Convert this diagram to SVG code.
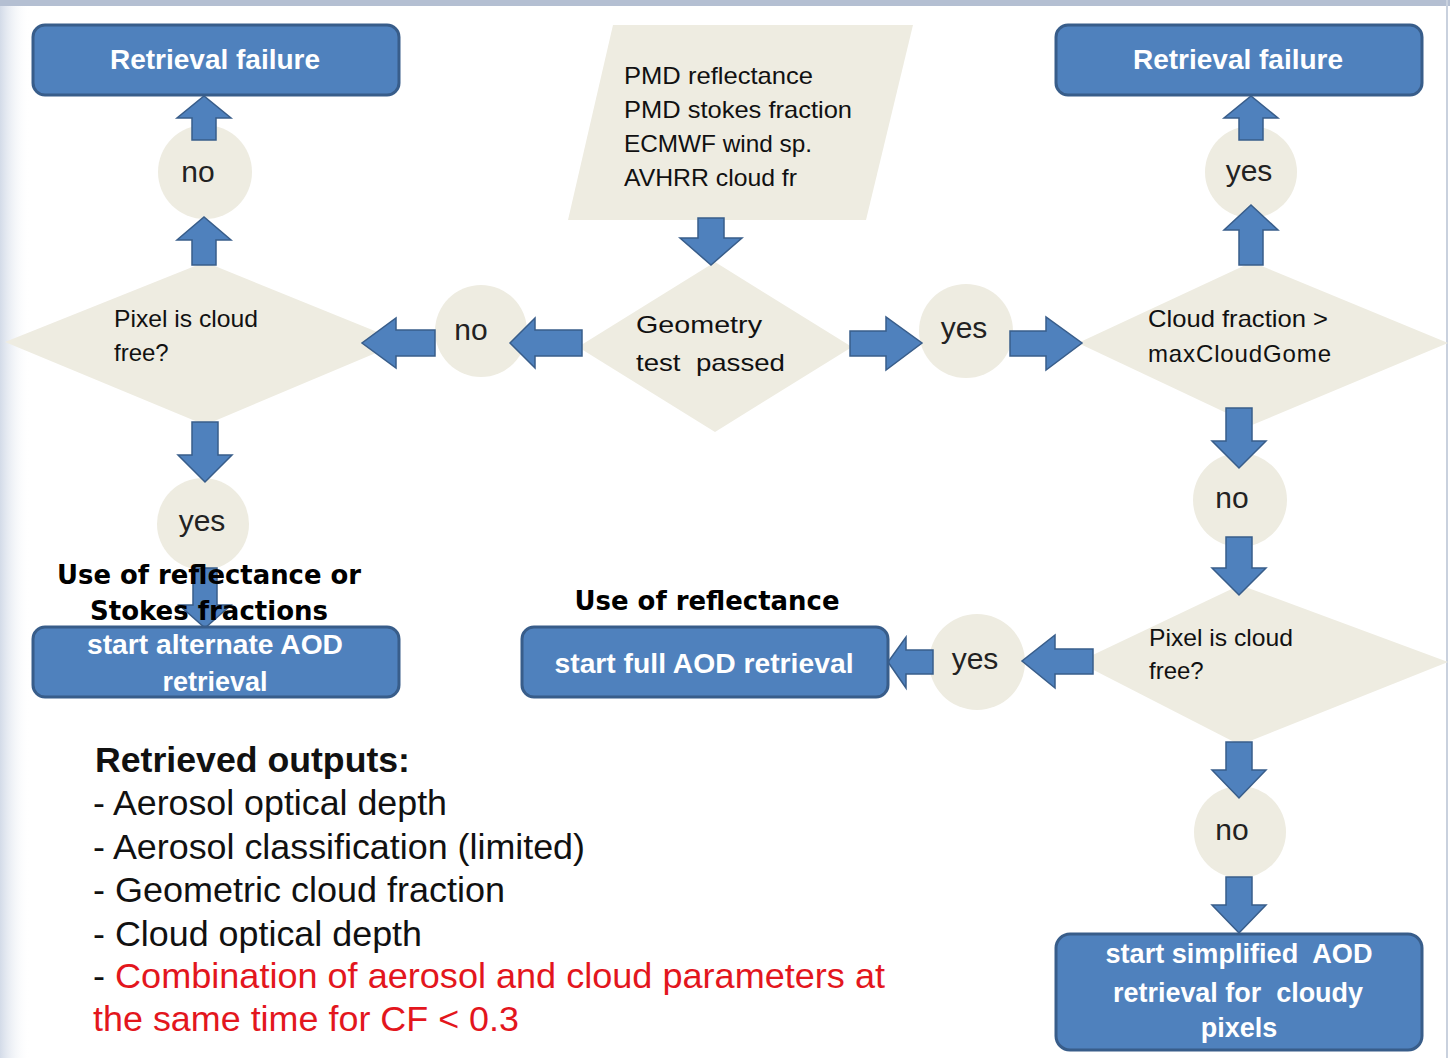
<svg xmlns="http://www.w3.org/2000/svg" width="1450" height="1058" viewBox="0 0 1450 1058">
<defs>
<linearGradient id="lg" x1="0" y1="0" x2="1" y2="0">
<stop offset="0" stop-color="#d3dbe8"/>
<stop offset="1" stop-color="#ffffff" stop-opacity="0"/>
</linearGradient>
</defs>
<style>
.box{fill:#4f81bd;stroke:#385d8a;stroke-width:3}
.shape{fill:#eeece1}
.arr{fill:#4f81bd;stroke:#385d8a;stroke-width:1.5;stroke-linejoin:miter}
.bt{font-family:"Liberation Sans",Arial,sans-serif;font-weight:bold;fill:#ffffff;text-anchor:middle}
.lbl{font-family:"Liberation Sans",Arial,sans-serif;font-size:30px;fill:#222222;text-anchor:middle}
.dt{font-family:"Liberation Sans",Arial,sans-serif;font-size:24px;fill:#111111}
.hd{font-family:"DejaVu Sans",Verdana,sans-serif;font-weight:bold;font-size:26px;fill:#000000;text-anchor:middle}
.out{font-family:"Liberation Sans",Arial,sans-serif;font-size:35px;fill:#111111}
.red{fill:#e3161d}
</style>
<rect x="0" y="0" width="1450" height="1058" fill="#ffffff"/>
<rect x="0" y="0" width="30" height="1058" fill="url(#lg)"/>
<rect x="0" y="0" width="1450" height="6" fill="#b4bfd2"/>
<rect x="1446" y="0" width="2" height="1058" fill="#c9d1de"/>

<g id="input_data">
<polygon class="shape" points="613,25 913,25 866,220 568,220"/>
<text class="dt" x="624" y="84" font-size="25" textLength="189" lengthAdjust="spacingAndGlyphs">PMD reflectance</text>
<text class="dt" x="624" y="118" font-size="25" textLength="228" lengthAdjust="spacingAndGlyphs">PMD stokes fraction</text>
<text class="dt" x="624" y="152" font-size="25" textLength="188" lengthAdjust="spacingAndGlyphs">ECMWF wind sp.</text>
<text class="dt" x="624" y="186" font-size="25" textLength="173" lengthAdjust="spacingAndGlyphs">AVHRR cloud fr</text>
</g>

<g id="geometry_test">
<polygon class="shape" points="715,262 852,347 715,432 578,347"/>
<text class="dt" x="636" y="333" font-size="28" textLength="126" lengthAdjust="spacingAndGlyphs">Geometry</text>
<text class="dt" x="636" y="371" font-size="28" textLength="149" lengthAdjust="spacingAndGlyphs" xml:space="preserve">test  passed</text>
</g>

<g id="pixel_cloud_free_left">
<polygon class="shape" points="205,262 402,342 205,425 5,342"/>
<text class="dt" x="114" y="327" textLength="144" lengthAdjust="spacingAndGlyphs">Pixel is cloud</text>
<text class="dt" x="114" y="361">free?</text>
</g>

<g id="cloud_fraction_test">
<polygon class="shape" points="1252,262 1448,343 1252,425 1078,343"/>
<text class="dt" x="1148" y="327" textLength="180" lengthAdjust="spacingAndGlyphs">Cloud fraction &gt;</text>
<text class="dt" x="1148" y="362" textLength="183" lengthAdjust="spacing">maxCloudGome</text>
</g>

<g id="pixel_cloud_free_right">
<polygon class="shape" points="1240,585 1448,662 1240,745 1078,662"/>
<text class="dt" x="1149" y="646" textLength="144" lengthAdjust="spacingAndGlyphs">Pixel is cloud</text>
<text class="dt" x="1149" y="679">free?</text>
</g>

<g id="no_left_top"><circle class="shape" cx="205" cy="172" r="47"/><text class="lbl" x="198" y="182">no</text></g>
<g id="yes_right_top"><circle class="shape" cx="1251" cy="172" r="46"/><text class="lbl" x="1249" y="181">yes</text></g>
<g id="no_mid"><circle class="shape" cx="481" cy="331" r="46"/><text class="lbl" x="471" y="340">no</text></g>
<g id="yes_mid"><circle class="shape" cx="966" cy="331" r="47"/><text class="lbl" x="964" y="338">yes</text></g>
<g id="yes_left_bottom"><circle class="shape" cx="203" cy="524" r="46"/><text class="lbl" x="202" y="531">yes</text></g>
<g id="no_right_mid"><circle class="shape" cx="1240" cy="500" r="47"/><text class="lbl" x="1232" y="508">no</text></g>
<g id="yes_right_low"><circle class="shape" cx="977" cy="662" r="48"/><text class="lbl" x="975" y="669">yes</text></g>
<g id="no_right_low"><circle class="shape" cx="1240" cy="832" r="46"/><text class="lbl" x="1232" y="840">no</text></g>

<g id="connectors">
<polygon class="arr" points="192,140 216,140 216,118 231,118 204,96 177,118 192,118"/>
<polygon class="arr" points="192,265 216,265 216,240 231,240 204,217 177,240 192,240"/>
<polygon class="arr" points="1239,140 1263,140 1263,118 1278,118 1251,96 1224,118 1239,118"/>
<polygon class="arr" points="1239,265 1263,265 1263,230 1278,230 1251,205 1224,230 1239,230"/>
<polygon class="arr" points="698,218 724,218 724,238 742,238 711,265 680,238 698,238"/>
<polygon class="arr" points="582,330 582,356 535,356 535,368 510,343 535,318 535,330"/>
<polygon class="arr" points="435,330 435,356 396,356 396,368 362,343 396,318 396,330"/>
<polygon class="arr" points="850,331 850,356 886,356 886,370 922,343 886,317 886,331"/>
<polygon class="arr" points="1010,331 1010,356 1046,356 1046,370 1082,343 1046,317 1046,331"/>
<polygon class="arr" points="192,422 218,422 218,455 232,455 205,482 178,455 192,455"/>
<polygon class="arr" points="193,568 217,568 217,605 231,605 205,628 179,605 193,605"/>
<polygon class="arr" points="1226,408 1252,408 1252,441 1266,441 1239,468 1212,441 1226,441"/>
<polygon class="arr" points="1226,537 1252,537 1252,568 1266,568 1239,595 1212,568 1226,568"/>
<polygon class="arr" points="1226,742 1252,742 1252,770 1266,770 1239,798 1212,770 1226,770"/>
<polygon class="arr" points="1226,877 1252,877 1252,905 1266,905 1239,933 1212,905 1226,905"/>
<polygon class="arr" points="1093,649 1093,674 1055,674 1055,688 1022,661 1055,635 1055,649"/>
<polygon class="arr" points="933,650 933,674 906,674 906,688 888,662 906,637 906,650"/>
</g>

<g id="retrieval_failure_left">
<rect class="box" x="33" y="25" width="366" height="70" rx="12"/>
<text class="bt" x="215" y="69" font-size="28">Retrieval failure</text>
</g>
<g id="retrieval_failure_right">
<rect class="box" x="1056" y="25" width="366" height="70" rx="12"/>
<text class="bt" x="1238" y="69" font-size="28">Retrieval failure</text>
</g>

<g id="alternate_retrieval">
<rect class="box" x="33" y="627" width="366" height="70" rx="12"/>
<text class="bt" x="215" y="654" font-size="27" textLength="256" lengthAdjust="spacingAndGlyphs">start alternate AOD</text>
<text class="bt" x="215" y="691" font-size="27">retrieval</text>
<text class="hd" x="209" y="584" textLength="304" lengthAdjust="spacingAndGlyphs">Use of reflectance or</text>
<text class="hd" x="209" y="620" textLength="238" lengthAdjust="spacingAndGlyphs">Stokes fractions</text>
</g>

<g id="full_retrieval">
<text class="hd" x="707" y="610" textLength="265" lengthAdjust="spacingAndGlyphs">Use of reflectance</text>
<rect class="box" x="522" y="627" width="366" height="70" rx="12"/>
<text class="bt" x="704" y="673" font-size="27" textLength="299" lengthAdjust="spacingAndGlyphs">start full AOD retrieval</text>
</g>

<g id="simplified_retrieval">
<rect class="box" x="1056" y="934" width="366" height="116" rx="14"/>
<text class="bt" x="1239" y="963" font-size="27" textLength="267" lengthAdjust="spacingAndGlyphs" xml:space="preserve">start simplified  AOD</text>
<text class="bt" x="1238" y="1002" font-size="27" textLength="250" lengthAdjust="spacingAndGlyphs" xml:space="preserve">retrieval for  cloudy</text>
<text class="bt" x="1239" y="1037" font-size="27">pixels</text>
</g>

<g id="retrieved_outputs">
<text class="out" x="95" y="772" font-weight="bold" textLength="315" lengthAdjust="spacingAndGlyphs">Retrieved outputs:</text>
<text class="out" x="93" y="815" textLength="354" lengthAdjust="spacingAndGlyphs">- Aerosol optical depth</text>
<text class="out" x="93" y="859" textLength="492" lengthAdjust="spacingAndGlyphs">- Aerosol classification (limited)</text>
<text class="out" x="93" y="902" textLength="412" lengthAdjust="spacingAndGlyphs">- Geometric cloud fraction</text>
<text class="out" x="93" y="946" textLength="329" lengthAdjust="spacingAndGlyphs">- Cloud optical depth</text>
<text class="out" x="93" y="988" textLength="792" lengthAdjust="spacingAndGlyphs">- <tspan class="red">Combination of aerosol and cloud parameters at</tspan></text>
<text class="out red" x="93" y="1031" textLength="426" lengthAdjust="spacingAndGlyphs">the same time for CF &lt; 0.3</text>
</g>
</svg>
